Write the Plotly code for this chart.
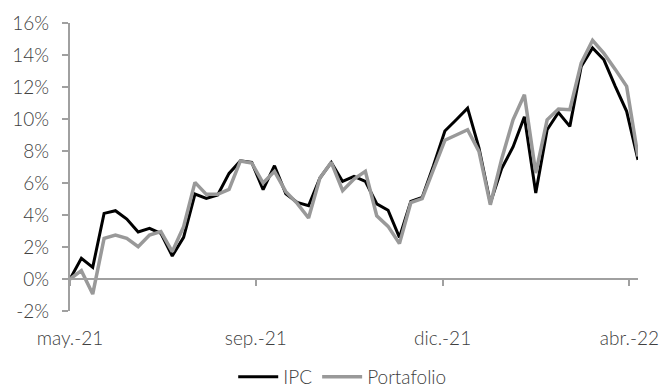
import pandas as pd
import plotly.graph_objects as go

# weekly observations
dates = pd.date_range("2021-05-14", periods=51, freq="7D")

ipc = [0.0, 1.29, 0.73, 4.10, 4.27, 3.75, 2.94, 3.17, 2.85, 1.44,
       2.60, 5.31, 5.04, 5.25, 6.60, 7.38, 7.29, 5.58, 7.08, 5.33,
       4.79, 4.58, 6.31, 7.29, 6.10, 6.41, 6.10, 4.70, 4.30, 2.60,
       4.85, 5.10, 7.10, 9.25, 9.95, 10.68, 8.20, 4.75, 6.90, 8.25,
       10.14, 5.37, 9.33, 10.41, 9.54, 13.29, 14.44, 13.70, 12.04, 10.48,
       7.45]

portafolio = [0.0, 0.52, -0.94, 2.54, 2.75, 2.54, 2.02, 2.75, 2.96, 1.71,
              3.27, 6.04, 5.29, 5.29, 5.60, 7.38, 7.25, 6.00, 6.73, 5.46,
              4.73, 3.81, 6.31, 7.29, 5.52, 6.25, 6.73, 3.95, 3.29, 2.21,
              4.77, 5.03, 6.85, 8.67, 9.00, 9.33, 7.98, 4.64, 7.50, 9.95,
              11.52, 6.62, 9.95, 10.62, 10.58, 13.50, 14.92, 14.10, 13.10, 12.04,
              7.66]

x_tick_vals = ["2021-05-14", "2021-09-05 12:00", "2021-12-29 14:00", "2022-04-23 17:00"]
x_tick_text = ["may.-21", "sep.-21", "dic.-21", "abr.-22"]

y_tick_vals = [-2, 0, 2, 4, 6, 8, 10, 12, 14, 16]
y_tick_text = ["-2%", "0%", "2%", "4%", "6%", "8%", "10%", "12%", "14%", "16%"]

FONT = "Lato"
TXT = "#404040"
AX = "#a0a0a0"
FS = 19

fig = go.Figure()
# carrier trace (invisible) so the zero-line axis with its ticks is rendered
fig.add_trace(go.Scatter(x=dates, y=ipc, xaxis="x2", mode="lines",
                         line=dict(color="rgba(0,0,0,0)", width=0),
                         showlegend=False, hoverinfo="skip"))
fig.add_trace(go.Scatter(x=dates, y=ipc, name="IPC", mode="lines",
                         line=dict(color="#000000", width=3)))
fig.add_trace(go.Scatter(x=dates, y=portafolio, name="Portafolio", mode="lines",
                         line=dict(color="#999999", width=3.5)))

x_range = [dates[0], dates[-1]]
tf = dict(family=FONT, size=FS, color=TXT, weight=300)

fig.update_layout(
    width=671, height=387,
    margin=dict(l=70, r=33, t=23, b=76, autoexpand=False),
    paper_bgcolor="white", plot_bgcolor="white",
    font=tf,
    showlegend=True,
    legend=dict(orientation="h", xref="container", yref="container",
                xanchor="center", x=0.51, yanchor="middle", y=0.026,
                font=tf, itemwidth=40, bgcolor="rgba(0,0,0,0)"),
    xaxis=dict(type="date", range=x_range, tickvals=x_tick_vals, ticktext=x_tick_text,
               showline=False, ticks="", showgrid=False, zeroline=False, automargin=False,
               ticklabelstandoff=14, tickfont=tf),
    xaxis2=dict(type="date", range=x_range, tickvals=x_tick_vals, overlaying="x",
                anchor="free", position=2 / 18, showline=True, linecolor=AX, linewidth=2,
                ticks="outside", ticklen=6, tickwidth=2, tickcolor=AX, automargin=False,
                showticklabels=False, showgrid=False, zeroline=False),
    yaxis=dict(range=[-2, 16], tickvals=y_tick_vals, ticktext=y_tick_text,
               showline=True, linecolor=AX, linewidth=2, ticks="outside", ticklen=6,
               tickwidth=2, tickcolor=AX, showgrid=False, zeroline=False, automargin=False,
               ticklabelstandoff=9, tickfont=tf),
)

fig.write_html("out.html")
